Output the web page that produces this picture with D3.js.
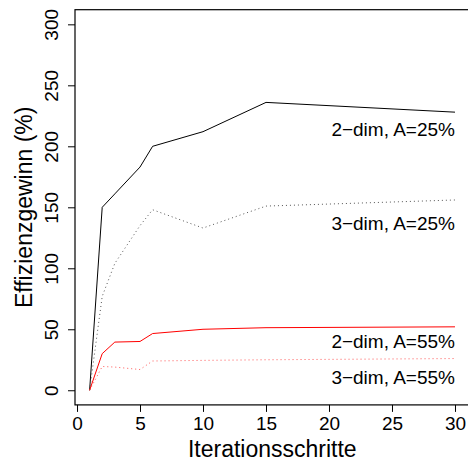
<!DOCTYPE html>
<html><head><meta charset="utf-8">
<script src="https://cdn.jsdelivr.net/npm/d3@7"></script>
<style>body{margin:0;background:#fff}svg{display:block}text{font-family:"Liberation Sans",Arial,sans-serif;fill:#000}</style>
</head><body>
<script>
const iterations = [1, 2, 3, 5, 6, 10, 15, 30];
const dim2A25 = [0, 150, 161, 183, 200, 212, 236, 228];
const dim3A25 = [0, 77, 104, 135, 148, 133, 151, 156];
const dim2A55 = [0, 30, 39.5, 40, 46.5, 50, 51.3, 52];
const dim3A55 = [0, 19.5, 19, 17, 24, 24.5, 25, 26];
const seriesNames = ["2\u2212dim, A=25%", "3\u2212dim, A=25%", "2\u2212dim, A=55%", "3\u2212dim, A=55%"];
const labelY = [214, 137, 40.5, 10.5];
const xTicks = [0, 5, 10, 15, 20, 25, 30];
const yTicks = [0, 50, 100, 150, 200, 250, 300];
const xTitle = "Iterationsschritte";
const yTitle = "Effizienzgewinn (%)";

const W = 468, H = 461;
const svg = d3.select("body").append("svg").attr("width", W).attr("height", H);
const x = d3.scaleLinear().domain([-0.16, 31.16]).range([75, 469.6]);
const y = d3.scaleLinear().domain([-12, 312]).range([404.9, 9.7]);

// box
svg.append("rect").attr("x", x(-0.16)).attr("y", y(312)).attr("width", x(31.16) - x(-0.16)).attr("height", y(-12) - y(312))
  .attr("fill", "none").attr("stroke", "#000").attr("stroke-width", 1.2);

const xAxis = svg.append("g").attr("transform", `translate(0,${y(-12)})`)
  .call(d3.axisBottom(x).tickValues(xTicks).tickSize(7).tickPadding(5).tickFormat(d3.format("d")));
xAxis.select(".domain").remove();
xAxis.selectAll("text").attr("font-size", 19).attr("font-family", "Liberation Sans, Arial, sans-serif");

const yAxis = svg.append("g").attr("transform", `translate(${x(-0.16)},0)`)
  .call(d3.axisLeft(y).tickValues(yTicks).tickSize(7).tickFormat(d3.format("d")));
yAxis.select(".domain").remove();
yAxis.selectAll("text").attr("font-size", 19).attr("font-family", "Liberation Sans, Arial, sans-serif")
  .attr("text-anchor", "middle").attr("x", null).attr("dy", null)
  .attr("transform", "translate(-17,0) rotate(-90)");

const series = [
  {v: dim2A25, c: "#000", dash: null},
  {v: dim3A25, c: "#555", dash: "1,3"},
  {v: dim2A55, c: "#ff0000", dash: null},
  {v: dim3A55, c: "#ff5555", dash: "1,3"}
];
const line = d3.line().x((d, i) => x(iterations[i])).y(d => y(d));
series.forEach((s, k) => {
  svg.append("path").datum(s.v).attr("d", line).attr("fill", "none")
    .attr("stroke", s.c).attr("stroke-width", 1).attr("stroke-dasharray", s.dash);
  svg.append("text").attr("x", x(30)).attr("y", y(labelY[k])).attr("dy", "0.35em")
    .attr("text-anchor", "end").attr("font-size", 19).text(seriesNames[k]);
});

svg.append("text").attr("x", (x(-0.16) + x(31.16)) / 2).attr("y", 456.5).attr("text-anchor", "middle")
  .attr("font-size", 23).text(xTitle);
svg.append("text").attr("transform", `translate(32,${(y(-12) + y(312)) / 2}) rotate(-90)`)
  .attr("text-anchor", "middle").attr("font-size", 23).text(yTitle);
</script>
</body></html>
